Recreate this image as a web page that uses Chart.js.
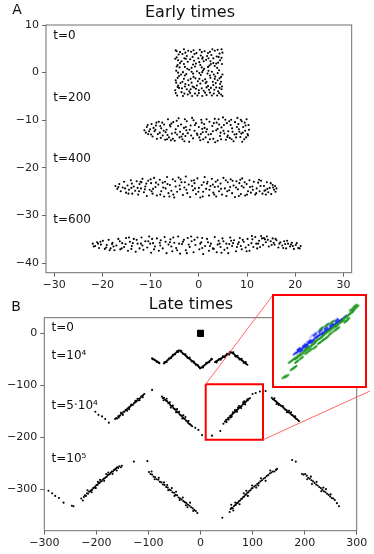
<!DOCTYPE html>
<html>
<head>
<meta charset="utf-8">
<script src="https://cdn.jsdelivr.net/npm/chart.js@4.4.1/dist/chart.umd.min.js"></script>
<style>
html, body { margin: 0; padding: 0; background: #fff; }
#wrap { position: relative; width: 374px; height: 554px; overflow: hidden; }
#wrap canvas { position: absolute; }
#cA { left: 0; top: 0; }
#cB { left: 0; top: 290px; }
#cZ { left: 272px; top: 294px; background: #fff; border: 2px solid #f00; }
</style>
</head>
<body>
<div id="wrap">
  <canvas id="cA" width="374" height="290"></canvas>
  <canvas id="cB" width="374" height="264"></canvas>
  <canvas id="cZ" width="95" height="94"></canvas>
</div>
<script>
// ---- early times (panel A), [x, y]
const earlyT0 = [[-4.8,4.7],[-3.1,4.9],[-1.6,4.4],[0.2,4.8],[1.9,4.1],[3.3,4.6],[4.7,4.9],[-4.2,3.8],[-2.5,3.5],[-0.9,3.9],[0.8,3.2],[2.6,3.7],[4.1,3.3],[4.9,4.2],[-4.9,2.9],[-3.6,2.4],[-1.8,2.8],[0.1,2.2],[1.5,2.7],[3.0,2.0],[4.4,2.6],[-4.4,1.6],[-2.9,1.2],[-1.2,1.7],[0.6,1.1],[2.2,1.5],[3.8,1.0],[4.8,1.8],[-4.7,0.4],[-3.3,0.1],[-2.0,0.6],[-0.4,0.3],[1.1,0.8],[2.7,0.2],[4.2,0.5],[-4.1,-0.7],[-2.6,-0.3],[-1.1,-0.9],[0.4,-0.5],[1.8,-0.2],[3.4,-0.8],[4.9,-0.4],[-4.8,-1.6],[-3.4,-1.9],[-1.7,-1.3],[-0.2,-1.8],[1.3,-1.4],[2.9,-1.9],[4.3,-1.2],[-4.3,-2.7],[-2.8,-2.4],[-1.3,-2.9],[0.3,-2.3],[1.9,-2.8],[3.5,-2.2],[4.8,-2.9],[-4.9,-3.7],[-3.5,-3.3],[-2.0,-3.9],[-0.6,-3.4],[1.0,-3.8],[2.5,-3.2],[4.0,-3.9],[-4.5,-4.8],[-3.0,-4.4],[-1.4,-4.9],[0.0,-4.3],[1.6,-4.7],[3.1,-4.4],[4.6,-4.6],
  [-3.9,4.3],[-2.2,4.6],[-0.5,4.1],[1.2,4.5],[2.8,4.9],[4.3,4.0],[-4.6,3.2],[-3.0,3.0],[-1.3,3.3],[0.4,3.6],[2.0,3.0],[3.7,3.4],[-3.9,2.0],[-2.3,2.3],[-0.6,1.9],[1.0,2.4],[2.5,1.8],[4.0,2.1],[-4.0,1.1],[-2.4,0.8],[-0.8,1.3],[0.9,0.5],[3.3,1.4],[4.6,-0.9],[-3.7,-0.4],[-1.5,0.2],[0.1,-0.1],[2.3,-0.6],[3.9,-0.1],[-4.4,-1.1],[-2.2,-1.6],[-0.7,-1.2],[0.8,-1.7],[2.4,-1.1],[3.9,-1.6],[-3.8,-2.2],[-2.1,-2.6],[-0.4,-2.7],[1.4,-2.2],[3.0,-2.6],[4.4,-2.4],[-4.1,-3.2],[-2.5,-3.5],[-1.0,-3.1],[0.6,-3.3],[2.1,-3.6],[3.6,-3.1],[4.7,-3.5],[-3.6,-4.1],[-2.3,-4.6],[-0.8,-4.4],[0.7,-4.9],[2.3,-4.2],[3.8,-4.8],
  [-4.6,4.5],[-2.8,4.2],[-1.1,4.7],[0.6,4.3],[2.3,4.4],[3.9,4.8],[-4.3,2.6],[-2.7,2.9],[-1.0,2.5],[0.7,2.9],[2.4,2.4],[4.7,3.1],[-4.6,1.3],[-3.1,1.8],[-1.5,1.0],[0.3,1.6],[1.9,1.2],[3.6,1.9],[-4.3,0.0],[-2.9,-0.6],[-1.2,-0.2],[0.7,0.1],[2.0,0.4],[3.1,-0.4],[-4.7,-2.1],[-3.1,-1.3],[-1.5,-2.1],[0.1,-1.3],[1.6,-1.9],[3.3,-1.3],[4.6,-1.9],[-4.4,-3.0],[-2.9,-2.9],[-1.7,-3.5],[0.0,-3.7],[1.6,-3.1],[3.2,-3.6],[4.3,-3.2],[-4.8,-4.3],[-3.3,-4.9],[-1.8,-4.3],[-0.3,-4.8],[1.3,-4.2],[2.7,-4.8],[4.2,-4.3],[4.9,-4.9],[-0.1,3.0],[1.7,3.5],[-3.4,3.9],[3.0,3.0]];

const earlyT200 = [[-11.3,-12.1],[-10.8,-11.4],[-10.5,-12.9],[-10.1,-11.9],[-9.8,-10.8],[-9.6,-13.4],[-9.2,-12.3],[-8.9,-11.1],[-8.7,-13.9],[-8.3,-10.3],[-8.1,-12.6],[-7.8,-11.7],[-7.5,-13.2],[-7.2,-10.9],[-7.0,-14.1],[-6.7,-12.0],[-6.4,-9.8],[-6.2,-13.6],[-5.9,-11.3],[-5.6,-12.8],[-5.3,-10.4],[-5.0,-14.3],[-4.8,-11.9],[-4.5,-13.0],[-4.2,-9.6],[-3.9,-12.4],[-3.7,-10.9],[-3.4,-14.0],[-3.1,-11.6],[-2.8,-13.3],[-2.5,-10.2],[-2.3,-12.7],[-2.0,-14.5],[-1.7,-11.1],[-1.4,-9.5],[-1.2,-13.8],[-0.9,-12.2],[-0.6,-10.6],[-0.3,-13.1],[0.0,-11.4],[0.3,-14.2],[0.5,-9.9],[0.8,-12.5],[1.1,-10.8],[1.4,-13.6],[1.7,-11.9],[1.9,-14.6],[2.2,-10.3],[2.5,-12.9],[2.8,-11.2],[3.0,-13.9],[3.3,-9.7],[3.6,-12.1],[3.9,-14.3],[4.2,-10.9],[4.4,-13.3],[4.7,-11.5],[5.0,-9.4],[5.3,-12.8],[5.6,-14.1],[5.8,-10.6],[6.1,-12.3],[6.4,-13.7],[6.7,-9.9],[6.9,-11.7],[7.2,-14.4],[7.5,-10.4],[7.8,-12.9],[8.0,-9.5],[8.3,-11.9],[8.6,-13.5],[8.9,-10.2],[9.1,-12.6],[9.4,-14.0],[9.7,-11.1],[9.9,-9.8],[10.2,-13.2],[10.4,-12.0],
  [-10.6,-11.0],[-9.4,-11.6],[-8.5,-12.9],[-7.6,-10.5],[-6.9,-12.5],[-6.0,-11.0],[-5.4,-13.9],[-4.6,-10.1],[-4.0,-13.6],[-3.3,-12.9],[-2.7,-11.4],[-1.9,-12.0],[-1.1,-10.0],[-0.4,-12.8],[0.4,-12.9],[1.2,-11.6],[2.0,-13.0],[2.9,-12.3],[3.7,-10.5],[4.5,-12.6],[5.2,-11.0],[6.0,-13.2],[6.6,-11.0],[7.4,-13.0],[8.2,-10.8],[8.8,-12.8],[9.5,-10.5],[10.1,-12.9],[7.9,-11.4],[5.5,-9.9],[-2.9,-9.8],[0.9,-14.0],[3.4,-14.6],[-5.8,-14.2],[9.0,-14.5],
  [-11.0,-12.6],[-10.3,-12.3],[-9.9,-13.0],[-9.0,-12.0],[-8.0,-11.2],[-7.3,-12.2],[-6.5,-13.1],[-5.7,-10.7],[-4.9,-12.6],[-4.3,-11.2],[-3.6,-13.4],[-2.6,-12.1],[-1.6,-13.2],[-0.8,-11.0],[0.1,-13.6],[0.6,-10.5],[1.5,-12.4],[2.3,-14.0],[3.1,-10.6],[3.9,-11.8],[4.6,-14.0],[5.1,-12.2],[5.9,-13.5],[6.3,-10.2],[7.0,-12.4],[7.7,-13.6],[8.4,-12.4],[9.2,-11.4],[9.8,-13.6],[10.3,-11.0],[-8.8,-10.5],[-6.6,-14.0],[-3.0,-14.4],[1.6,-9.8],[4.1,-9.8],[6.8,-14.0],[9.6,-12.2],[8.7,-9.9],[-7.9,-13.7],[0.7,-11.8]];

const earlyT400 = [[-17.3,-23.8],[-16.9,-24.4],[-16.5,-23.4],[-16.2,-24.9],[-15.8,-24.1],[-15.5,-22.9],[-15.1,-25.2],[-14.8,-23.7],[-14.5,-24.6],[-14.1,-22.6],[-13.8,-25.4],[-13.5,-23.9],[-13.2,-24.8],[-12.9,-22.8],[-12.6,-25.6],[-12.3,-23.4],[-12.0,-24.3],[-11.7,-22.3],[-11.4,-25.1],[-11.1,-23.9],[-10.8,-25.9],[-10.5,-22.7],[-10.2,-24.6],[-9.9,-23.2],[-9.6,-25.4],[-9.3,-22.1],[-9.0,-24.0],[-8.7,-25.8],[-8.4,-23.5],[-8.1,-22.5],[-7.8,-24.9],[-7.5,-23.1],[-7.2,-26.0],[-6.9,-24.3],[-6.6,-21.9],[-6.3,-25.3],[-6.0,-23.6],[-5.7,-24.8],[-5.4,-22.4],[-5.1,-26.2],[-4.8,-23.9],[-4.5,-25.0],[-4.2,-22.0],[-3.9,-24.5],[-3.6,-23.0],[-3.3,-25.7],[-3.0,-24.1],[-2.7,-21.8],[-2.4,-25.3],[-2.1,-23.5],[-1.8,-26.1],[-1.5,-22.7],[-1.2,-24.7],[-0.9,-23.2],[-0.6,-25.5],[-0.3,-22.2],[0.0,-24.2],[0.3,-26.2],[0.6,-23.6],[0.9,-25.0],[1.2,-21.9],[1.5,-24.4],[1.8,-22.9],[2.1,-25.8],[2.4,-23.8],[2.7,-22.3],[3.0,-25.2],[3.3,-24.0],[3.6,-26.0],[3.9,-22.6],[4.2,-24.9],[4.5,-23.3],[4.8,-25.6],[5.1,-22.1],[5.4,-24.3],[5.7,-25.9],[6.0,-23.0],[6.3,-24.7],[6.6,-22.4],[6.9,-25.3],[7.2,-23.7],[7.5,-26.1],[7.8,-22.8],[8.1,-24.5],[8.4,-23.2],[8.7,-25.5],[9.0,-22.2],[9.3,-24.1],[9.6,-25.8],[9.9,-23.4],[10.2,-24.9],[10.5,-22.6],[10.8,-25.2],[11.1,-23.9],[11.4,-22.9],[11.7,-25.6],[12.0,-24.3],[12.3,-23.1],[12.6,-24.9],[12.9,-22.7],[13.2,-25.4],[13.5,-23.8],[13.8,-24.7],[14.1,-23.0],[14.4,-25.1],[14.7,-24.2],[15.0,-25.5],[15.3,-23.6],[15.6,-24.6],[15.9,-25.0],[16.1,-24.3],
  [-14.0,-24.2],[-11.9,-23.0],[-9.8,-24.9],[-7.0,-22.9],[-4.9,-22.8],[-2.9,-23.0],[-0.8,-24.3],[1.7,-23.3],[4.0,-23.9],[6.5,-24.0],[8.9,-23.8],[11.2,-24.6],[13.6,-24.8],[14.9,-23.2],[-12.4,-24.9],
  [-16.7,-24.0],[-15.3,-24.3],[-13.9,-23.3],[-12.7,-24.2],[-11.2,-24.5],[-10.0,-22.4],[-8.9,-23.1],[-8.0,-25.6],[-6.5,-23.4],[-5.3,-25.6],[-4.0,-23.7],[-2.6,-24.6],[-1.4,-23.8],[-0.1,-25.0],[1.0,-23.0],[2.2,-24.6],[3.5,-22.9],[4.6,-24.4],[5.9,-24.9],[7.0,-22.7],[8.3,-25.9],[9.5,-23.0],[10.6,-24.0],[11.9,-25.3],[12.8,-23.8],[14.2,-24.4],[15.4,-24.1],[-14.6,-25.4],[-12.1,-22.9],[-9.5,-24.4],[-7.4,-24.1],[-3.8,-22.4],[-1.0,-22.6],[0.8,-26.0],[2.9,-23.5],[5.6,-22.6],[7.7,-24.1],[10.0,-25.6],[12.5,-22.5],[13.9,-25.6],[15.8,-23.8],[-6.1,-26.0],[3.2,-25.6],[8.6,-22.5],[-10.9,-23.3]];

const earlyT600 = [[-22.0,-35.9],[-21.5,-36.4],[-21.1,-35.6],[-20.7,-36.8],[-20.3,-36.1],[-19.9,-35.3],[-19.5,-37.0],[-19.1,-36.2],[-18.7,-35.1],[-18.3,-36.9],[-17.9,-35.7],[-17.5,-37.3],[-17.1,-36.3],[-16.7,-34.9],[-16.3,-37.1],[-15.9,-35.8],[-15.5,-36.6],[-15.1,-34.7],[-14.7,-37.4],[-14.3,-35.5],[-13.9,-36.4],[-13.5,-34.9],[-13.1,-37.6],[-12.7,-35.9],[-12.3,-36.9],[-11.9,-34.6],[-11.5,-37.2],[-11.1,-35.4],[-10.7,-36.7],[-10.3,-34.4],[-9.9,-37.8],[-9.5,-35.8],[-9.1,-36.5],[-8.7,-34.8],[-8.3,-37.4],[-7.9,-35.2],[-7.5,-36.9],[-7.1,-34.5],[-6.7,-37.9],[-6.3,-36.1],[-5.9,-35.0],[-5.5,-37.5],[-5.1,-35.7],[-4.7,-36.8],[-4.3,-34.4],[-3.9,-38.0],[-3.5,-36.0],[-3.1,-35.1],[-2.7,-37.3],[-2.3,-34.7],[-1.9,-36.6],[-1.5,-35.4],[-1.1,-37.7],[-0.7,-36.2],[-0.3,-34.6],[0.1,-37.1],[0.5,-35.6],[0.9,-38.1],[1.3,-36.4],[1.7,-34.9],[2.1,-37.4],[2.5,-35.9],[2.9,-36.9],[3.3,-34.5],[3.7,-37.7],[4.1,-35.3],[4.5,-36.6],[4.9,-34.8],[5.3,-37.2],[5.7,-35.9],[6.1,-37.9],[6.5,-34.6],[6.9,-36.4],[7.3,-35.2],[7.7,-37.5],[8.1,-36.0],[8.5,-34.7],[8.9,-37.1],[9.3,-35.5],[9.7,-36.7],[10.1,-34.9],[10.5,-37.4],[10.9,-35.8],[11.3,-36.6],[11.7,-34.5],[12.1,-36.9],[12.5,-35.3],[12.9,-34.3],[13.3,-36.2],[13.7,-35.0],[14.1,-34.4],[14.5,-36.5],[14.9,-35.4],[15.3,-34.8],[15.7,-36.1],[16.1,-35.2],[16.5,-36.7],[16.9,-35.6],[17.3,-36.3],[17.7,-35.4],[18.1,-36.9],[18.5,-35.9],[18.9,-36.5],[19.3,-35.7],[19.7,-37.0],[20.1,-36.2],[20.6,-36.8],[21.1,-36.4],
  [-20.9,-35.9],[-18.0,-36.0],[-16.0,-36.9],[-13.7,-35.8],[-12.0,-35.9],[-10.1,-35.9],[-8.0,-36.3],[-6.0,-35.6],[-4.1,-35.9],[-2.1,-36.1],[0.3,-35.9],[2.3,-36.4],[4.3,-35.9],[6.3,-36.0],[8.3,-35.6],[10.3,-36.2],[12.3,-35.9],[13.9,-35.6],[15.5,-35.7],[17.9,-36.0],[19.1,-36.1],[11.0,-34.3],[-1.6,-34.4],
  [-21.8,-36.5],[-20.4,-35.5],[-19.2,-36.7],[-17.7,-36.5],[-16.4,-35.4],[-15.2,-36.0],[-14.0,-37.0],[-12.9,-35.1],[-11.7,-36.3],[-10.5,-35.4],[-9.3,-37.1],[-8.1,-35.7],[-6.9,-35.5],[-5.7,-36.5],[-4.5,-37.3],[-3.3,-35.5],[-2.5,-37.9],[-0.9,-35.1],[0.7,-36.8],[1.9,-35.6],[3.1,-37.0],[3.9,-36.1],[5.1,-35.4],[5.9,-36.8],[7.1,-35.8],[7.9,-36.6],[9.1,-35.1],[9.9,-37.5],[11.1,-35.0],[11.9,-35.9],[12.7,-36.6],[13.5,-34.7],[14.3,-35.1],[15.1,-36.2],[15.9,-34.9],[16.7,-35.9],[17.5,-36.8],[18.3,-35.3],[19.5,-36.4],[20.3,-35.8],[20.9,-36.9],[-14.5,-34.6],[-9.7,-34.9],[-5.3,-34.6],[0.7,-34.7],[4.7,-37.8],[8.7,-36.4],[13.1,-34.8],[-18.5,-37.3],[6.7,-35.3]];

// ---- late times (panel B), [x, y]
const lateT0 = earlyT0;

const lateT1e4 = [[-93,-48],[-91,-49.5],[-89,-50.5],[-87,-52],[-85,-53.5],[-83,-54.5],[-81,-56],[-79,-57.5],[-92,-50],[-88,-51.5],[-84,-55],[-80,-56.5],
  [-70,-58],[-68,-56],[-66,-54.5],[-64,-52.5],[-62,-51],[-60,-49],[-58,-47.5],[-56,-45.5],[-54,-44],[-52,-42],[-50,-40],[-48,-38.5],[-46,-36.5],[-44,-35],[-42,-33],[-69,-55.5],[-65,-55.5],[-61,-48.5],[-57,-48],[-53,-41.5],[-49,-40.5],[-45,-34.5],[-43,-36],
  [-40,-33],[-38,-35],[-36,-36.5],[-34,-38.5],[-32,-40],[-30,-41.5],[-28,-43.5],[-26,-45],[-24,-47],[-22,-48.5],[-20,-50],[-18,-52],[-16,-53.5],[-14,-55],[-12,-57],[-10,-58.5],[-8,-60],[-6,-62],[-4,-63.5],[-2,-65.5],[0,-67],[-37,-33.5],[-33,-40],[-29,-40.5],[-25,-47.5],[-21,-46.5],[-17,-54],[-13,-54.5],[-9,-60.5],[-5,-61],[-1,-67.5],[-3,-65],
  [2,-66],[4,-64],[6,-63],[8,-61],[10,-59.5],[12,-58],[14,-56.5],[16,-55],[18,-53],[20,-51.5],[22,-50],[5,-66],[11,-57],[17,-55.5],[21,-49],
  [28,-55.5],[30,-54],[32,-53],[34,-52],[36,-50.5],[38,-49],[40,-48],[42,-47],[44,-45.5],[46,-44.5],[48,-43],[50,-42],[52,-40.5],[54,-39.5],[56,-38],[58,-37],[31,-56],[35,-50],[39,-51],[43,-44.5],[47,-46],[51,-39.5],[55,-41],[57,-35.5],
  [60,-37],[62,-38.5],[64,-40],[66,-42],[68,-43.5],[70,-45],[72,-46.5],[74,-48],[76,-49.5],[78,-51],[80,-52.5],[82,-54],[84,-56],[86,-57.5],[88,-59],[90,-60.5],[63,-36.5],[67,-44.5],[71,-43.5],[75,-50.5],[79,-49],[83,-56.5],[87,-55.5]];

const lateT5e4 = [[-202,-151],[-196,-157],[-189,-160],[-183,-165],[-176,-172],
  [-164,-165],[-162,-163],[-160,-164],[-158,-160],[-156,-159],[-154,-158],[-152,-155],[-150,-154],[-148,-151],[-146,-151],[-144,-148],[-142,-147],[-140,-145],[-138,-143],[-136,-142],[-134,-140],[-132,-138],[-130,-138],[-128,-135],[-126,-133],[-124,-132],[-122,-130],[-120,-129],[-118,-126],[-116,-125],[-114,-122],[-112,-121],[-110,-119],[-108,-117],[-157,-162],[-149,-157],[-141,-149],[-133,-137],[-125,-130],[-117,-129],[-137,-146],[-153,-153],[-121,-126],[-111,-123],
  [-93,-109],
  [-74,-122],[-72,-125],[-70,-124],[-68,-128],[-66,-130],[-64,-131],[-62,-134],[-60,-135],[-58,-138],[-56,-140],[-54,-141],[-52,-144],[-50,-146],[-48,-147],[-46,-150],[-44,-152],[-42,-153],[-40,-156],[-38,-158],[-36,-159],[-34,-162],[-32,-164],[-30,-165],[-28,-168],[-26,-169],[-24,-172],[-22,-174],[-20,-175],[-18,-177],[-16,-179],[-71,-129],[-65,-126],[-59,-133],[-53,-139],[-47,-152],[-41,-151],[-35,-164],[-29,-161],[-23,-169],[-57,-143],[-45,-146],[-33,-158],
  [-10,-182],[-4,-186],[3,-196],[22,-197],
  [38,-188],[44,-174],[47,-170],[49,-167],[51,-166],[53,-163],[55,-162],[57,-159],[59,-158],[61,-156],[63,-154],[65,-152],[67,-151],[69,-148],[71,-147],[73,-145],[75,-143],[77,-141],[79,-140],[81,-137],[83,-136],[85,-134],[87,-132],[89,-130],[91,-129],[93,-126],[95,-125],[50,-171],[54,-166],[58,-162],[62,-152],[66,-148],[70,-151],[74,-140],[78,-144],[82,-133],[86,-137],[90,-127],[60,-160],[72,-143],[84,-131],
  [100,-117],[106,-115],[114,-112],[125,-111],
  [137,-124],[139,-127],[141,-128],[143,-130],[145,-131],[147,-133],[149,-135],[151,-136],[153,-138],[155,-140],[157,-141],[159,-143],[161,-145],[163,-147],[165,-148],[167,-150],[169,-152],[171,-153],[173,-155],[175,-157],[177,-158],[179,-160],[181,-162],[183,-164],[185,-165],[187,-167],[189,-169],[142,-125],[150,-138],[158,-140],[166,-152],[174,-152],[182,-160],[146,-136],[170,-149]];

const lateT1e5 = [[-292,-303],[-285,-308],[-279,-313],[-272,-317],[-263,-326],[-247,-332],[-244,-333],
  [-229,-318],[-226,-322],[-224,-315],[-222,-312],[-220,-313],[-218,-308],[-216,-309],[-214,-305],[-212,-304],[-210,-302],[-208,-301],[-206,-298],[-204,-297],[-202,-295],[-200,-292],[-198,-292],[-196,-289],[-194,-288],[-192,-285],[-190,-285],[-188,-282],[-186,-280],[-184,-279],[-182,-277],[-180,-276],[-178,-273],[-176,-272],[-174,-271],[-172,-268],[-170,-266],[-168,-266],[-166,-263],[-164,-262],[-162,-260],[-160,-258],[-158,-259],[-156,-256],[-153,-258],[-151,-255],[-217,-302],[-209,-306],[-201,-298],[-193,-282],[-185,-284],[-177,-268],[-169,-271],[-161,-264],[-197,-286],[-181,-271],
  [-128,-247],[-102,-246],
  [-99,-267],[-96,-271],[-93,-272],[-90,-276],[-87,-277],[-84,-281],[-81,-282],[-78,-286],[-75,-287],[-72,-291],[-69,-292],[-66,-296],[-63,-297],[-60,-301],[-57,-302],[-54,-306],[-51,-307],[-48,-311],[-45,-312],[-42,-316],[-39,-318],[-36,-320],[-33,-323],[-30,-325],[-27,-327],[-24,-330],[-21,-332],[-18,-335],[-15,-337],[-12,-340],[-9,-342],[-6,-346],[-94,-266],[-88,-281],[-80,-278],[-70,-287],[-62,-302],[-55,-298],[-47,-305],[-40,-321],[-34,-316],[-28,-331],[-20,-326],[-14,-342],[-64,-292],[-50,-313],[-25,-335],
  [42,-355],
  [56,-344],[58,-338],[60,-336],[62,-337],[64,-333],[66,-331],[68,-330],[70,-327],[72,-326],[74,-323],[76,-322],[78,-319],[80,-318],[82,-315],[84,-314],[86,-311],[88,-310],[90,-307],[92,-306],[94,-303],[96,-302],[98,-299],[100,-298],[103,-295],[106,-293],[109,-290],[112,-288],[115,-285],[118,-283],[121,-280],[124,-278],[127,-275],[130,-273],[133,-270],[136,-268],[139,-266],[142,-266],[145,-263],[147,-261],[63,-341],[67,-326],[75,-329],[83,-308],[91,-313],[99,-293],[107,-297],[116,-279],[125,-284],[134,-264],[59,-330],[88,-303],[111,-293],
  [176,-244],[183,-247],
  [195,-271],[198,-272],[201,-271],[204,-274],[207,-278],[210,-280],[213,-283],[216,-285],[219,-288],[222,-291],[225,-293],[228,-296],[231,-298],[234,-301],[237,-304],[240,-306],[243,-309],[246,-311],[249,-314],[252,-317],[255,-318],[258,-321],[262,-327],[266,-333],[205,-281],[214,-290],[223,-286],[232,-304],[241,-300],[250,-310],[212,-276],[236,-297]];

const zoomBox = [[10,-98],[120,-98],[120,-205],[10,-205],[10,-98]];

// ---- inset (own 0..100 frame)
const insetGreen = [[11,10],[14,11],[20,19],[23,21],[18,27],[22,30],[25,31],[27,34],[30,35],[33,38],[35,41],[38,42],[41,45],[44,47],[46,50],[49,52],[52,54],[55,57],[57,59],[60,61],[63,63],[66,66],[69,67],[72,70],[75,72],[77,75],[80,77],[83,80],[86,82],[88,85],[91,88],[85,85],[89,89],[30,31],[40,40],[50,48],[62,58],[70,64],[79,72],[45,43],[58,54],[36,37],[67,62],[81,74],[25,27],[54,51],[52,64],[58,68],[64,71]];
const insetBlue = [[23,36],[26,38],[28,40],[31,42],[34,44],[37,47],[40,49],[43,51],[46,54],[49,56],[52,58],[55,60],[58,62],[61,64],[64,66],[67,69],[70,71],[73,73],[76,75],[78,77],[30,39],[36,44],[42,49],[48,55],[54,58],[60,62],[66,67],[72,72],[45,57],[51,61],[57,64],[63,68],[69,73],[39,50],[33,45],[27,41]];
const insetBlueFaint = [[44,58],[50,62],[56,66],[62,70],[68,74],[48,60],[54,64],[60,68],[41,55],[35,48]];

const earlyLabels = ['t=0', 't=200', 't=400', 't=600'];
const lateLabels = ['t=0', 't=10\u2074', 't=5\u00b710\u2074', 't=10\u2075'];
const xTicksA = [-30, -20, -10, 0, 10, 20, 30];
const yTicksA = [-40, -30, -20, -10, 0, 10];
const xTicksB = [-300, -200, -100, 0, 100, 200, 300];
const yTicksB = [-300, -200, -100, 0];

Chart.defaults.font.family = 'DejaVu Sans';

const pts = (a) => a.map(p => ({ x: p[0], y: p[1] }))
const minus = (v) => String(v).replace('-', '\u2212')

const axis = (min, max, ticks, size, isX) => ({
    type: 'linear', min: min, max: max,
    afterBuildTicks: (s) => { s.ticks = ticks.map(v => ({ value: v })) },
    afterFit: (s) => { if (isX) s.height = size; else s.width = size },
    ticks: { callback: (v) => minus(v), font: { size: 11 }, color: '#222', padding: isX ? 2 : 3, maxRotation: 0, autoSkip: false },
    grid: { drawOnChartArea: false, drawTicks: true, tickLength: 4, color: '#666' },
    border: { display: false }
})

const cloud = (data) => ({
    type: 'scatter', data: pts(data),
    pointRadius: 1.05, pointBorderWidth: 0, backgroundColor: '#000', borderColor: '#000'
})

// box round the plot area
const frame = {
    id: 'frame',
    afterDraw(c) {
        const a = c.chartArea, ctx = c.ctx
        ctx.save()
        ctx.strokeStyle = '#6e6e6e'
        ctx.lineWidth = 1
        ctx.strokeRect(a.left, a.top, a.right - a.left, a.bottom - a.top)
        ctx.restore()
    }
}

// panel letter, title and the t= labels
const notes = {
    id: 'notes',
    afterDraw(c, args, o) {
        const ctx = c.ctx
        ctx.save()
        ctx.fillStyle = '#111'
        ctx.textBaseline = 'middle'
        ctx.textAlign = 'center'
        ctx.font = '14px "DejaVu Sans"'
        ctx.fillText(o.letter, o.letterX, o.letterY)
        ctx.font = '16px "DejaVu Sans"'
        ctx.fillText(o.title, o.titleX, o.titleY)
        ctx.font = '12px "DejaVu Sans"'
        ctx.textAlign = 'left'
        o.labels.forEach((t, i) => {
            ctx.fillText(t, c.scales.x.getPixelForValue(o.labelX), c.scales.y.getPixelForValue(o.labelY[i]))
        })
        ctx.restore()
    }
}

// thin lines from the zoom box to the inset corners
const connect = {
    id: 'connect',
    afterDraw(c) {
        const z = document.getElementById('cZ').getBoundingClientRect()
        const b = c.canvas.getBoundingClientRect()
        const sx = c.scales.x, sy = c.scales.y
        const ctx = c.ctx
        ctx.save()
        ctx.strokeStyle = '#ff4040'
        ctx.lineWidth = 0.8
        ctx.beginPath()
        ctx.moveTo(sx.getPixelForValue(zoomBox[0][0]), sy.getPixelForValue(zoomBox[0][1]))
        ctx.lineTo(z.left - b.left + 1, z.top - b.top + 1)
        ctx.moveTo(sx.getPixelForValue(zoomBox[2][0]), sy.getPixelForValue(zoomBox[2][1]))
        ctx.lineTo(z.right - b.left - 1, z.bottom - b.top - 1)
        ctx.stroke()
        ctx.restore()
    }
}

new Chart(document.getElementById('cA').getContext('2d'), {
    type: 'scatter',
    data: { datasets: [cloud(earlyT0), cloud(earlyT200), cloud(earlyT400), cloud(earlyT600)] },
    options: {
        responsive: false, animation: false, events: [],
        layout: { autoPadding: false, padding: { left: 0, right: 22.3, top: 25, bottom: 0.3 } },
        scales: { x: axis(-31.7, 31.7, xTicksA, 17, true), y: axis(-42, 10, yTicksA, 46, false) },
        plugins: {
            legend: { display: false }, tooltip: { enabled: false },
            notes: { letter: 'A', letterX: 17, letterY: 10, title: 'Early times', titleX: 190, titleY: 12.7,
                     labels: earlyLabels, labelX: -30.2, labelY: [7.8, -5.2, -18.1, -31.0] }
        }
    },
    plugins: [frame, notes]
})

new Chart(document.getElementById('cB').getContext('2d'), {
    type: 'scatter',
    data: {
        datasets: [
            cloud(lateT0), cloud(lateT1e4), cloud(lateT5e4), cloud(lateT1e5),
            { type: 'line', data: pts(zoomBox), borderColor: '#f00', borderWidth: 2, pointRadius: 0, fill: false, tension: 0 }
        ]
    },
    options: {
        responsive: false, animation: false, events: [],
        layout: { autoPadding: false, padding: { left: 0, right: 17.3, top: 27.7, bottom: 6.3 } },
        scales: { x: axis(-300, 300, xTicksB, 17, true), y: axis(-380, 30, yTicksB, 44.3, false) },
        plugins: {
            legend: { display: false }, tooltip: { enabled: false },
            notes: { letter: 'B', letterX: 16, letterY: 17, title: 'Late times', titleX: 191, titleY: 15,
                     labels: lateLabels, labelX: -286, labelY: [9.6, -43.7, -140, -242] }
        }
    },
    plugins: [frame, notes, connect]
})

new Chart(document.getElementById('cZ').getContext('2d'), {
    type: 'scatter',
    data: {
        datasets: [
            { data: pts(insetGreen), pointStyle: 'line', rotation: -40, pointRadius: 3, borderWidth: 2, borderColor: '#229a22', backgroundColor: '#229a22' },
            { data: pts(insetGreen), pointRadius: 1.2, pointBorderWidth: 0, backgroundColor: '#2ca02c' },
            { data: pts(insetBlueFaint), pointStyle: 'line', rotation: -40, pointRadius: 3, borderWidth: 2, borderColor: 'rgba(60,80,255,0.35)' },
            { data: pts(insetBlue), pointStyle: 'line', rotation: -40, pointRadius: 2.5, borderWidth: 2, borderColor: '#1a2cf0', backgroundColor: '#1a2cf0' }
        ]
    },
    options: {
        responsive: false, animation: false, events: [],
        layout: { autoPadding: false, padding: 0 },
        scales: {
            x: { type: 'linear', min: 0, max: 100, display: false },
            y: { type: 'linear', min: 0, max: 100, display: false }
        },
        plugins: { legend: { display: false }, tooltip: { enabled: false } }
    }
})
</script>
</body>
</html>
